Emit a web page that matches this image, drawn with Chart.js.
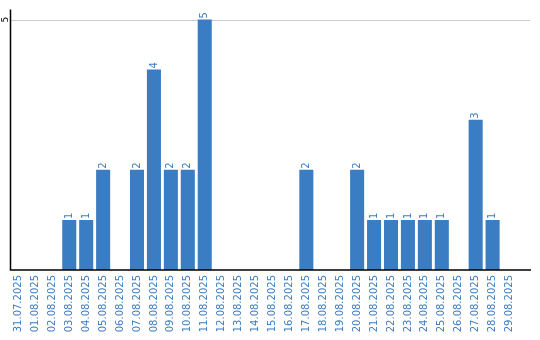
<!DOCTYPE html>
<html>
<head>
<meta charset="utf-8">
<script src="https://cdn.jsdelivr.net/npm/chart.js@4"></script>
<style>
  body { margin: 0; background: #fff; }
  canvas { display: block; }
</style>
</head>
<body>
<canvas id="chart" width="540" height="340"></canvas>
<script>
const dates = [
  '31.07.2025', '01.08.2025', '02.08.2025', '03.08.2025', '04.08.2025', '05.08.2025',
  '06.08.2025', '07.08.2025', '08.08.2025', '09.08.2025', '10.08.2025', '11.08.2025',
  '12.08.2025', '13.08.2025', '14.08.2025', '15.08.2025', '16.08.2025', '17.08.2025',
  '18.08.2025', '19.08.2025', '20.08.2025', '21.08.2025', '22.08.2025', '23.08.2025',
  '24.08.2025', '25.08.2025', '26.08.2025', '27.08.2025', '28.08.2025', '29.08.2025'
]
const counts = [0, 0, 0, 1, 1, 2, 0, 2, 4, 2, 2, 5, 0, 0, 0, 0, 0, 2, 0, 0, 2, 1, 1, 1, 1, 1, 0, 3, 1, 0]
const yTicks = [5]

const blue = '#3b7dc2'

// axis lines, gridline, y tick and value labels drawn by hand
const extras = {
  id: 'extras',
  beforeDatasetsDraw(chart) {
    const { ctx, chartArea, scales } = chart
    ctx.save()
    ctx.strokeStyle = '#cccccc'
    ctx.lineWidth = 1
    yTicks.forEach(t => {
      const y = Math.round(scales.y.getPixelForValue(t)) + 0.5
      ctx.beginPath()
      ctx.moveTo(chartArea.left, y)
      ctx.lineTo(530, y)
      ctx.stroke()
    })
    ctx.restore()
  },
  afterDatasetsDraw(chart) {
    const { ctx, chartArea, scales } = chart
    ctx.save()
    ctx.strokeStyle = '#000'
    ctx.lineWidth = 1.5
    ctx.beginPath()
    ctx.moveTo(chartArea.left + 0.5, chartArea.top)
    ctx.lineTo(chartArea.left + 0.5, chartArea.bottom)
    ctx.lineTo(531, chartArea.bottom)
    ctx.stroke()

    // y tick
    ctx.fillStyle = '#000'
    ctx.font = '9px "DejaVu Sans"'
    ctx.textAlign = 'center'
    ctx.textBaseline = 'alphabetic'
    yTicks.forEach(t => {
      ctx.save()
      ctx.translate(7.5, scales.y.getPixelForValue(t))
      ctx.rotate(-Math.PI / 2)
      ctx.fillText(String(t), 0, 0)
      ctx.restore()
    })

    // value labels
    ctx.fillStyle = blue
    ctx.font = '10px "DejaVu Sans"'
    ctx.textAlign = 'left'
    ctx.textBaseline = 'middle'
    const meta = chart.getDatasetMeta(0)
    meta.data.forEach((bar, i) => {
      if (!counts[i]) return
      ctx.save()
      ctx.translate(bar.x, bar.y - 1)
      ctx.rotate(-Math.PI / 2)
      ctx.fillText(String(counts[i]), 0, 0)
      ctx.restore()
    })
    ctx.restore()
  }
}

new Chart('chart', {
  type: 'bar',
  data: {
    labels: dates,
    datasets: [{
      data: counts,
      backgroundColor: blue,
      borderWidth: 0,
      barPercentage: 1,
      categoryPercentage: 0.83
    }]
  },
  options: {
    responsive: false,
    animation: false,
    layout: { padding: { left: 10, right: 22, top: 9.5, bottom: 0 } },
    plugins: { legend: { display: false }, tooltip: { enabled: false } },
    scales: {
      x: {
        grid: { display: false, drawTicks: false },
        border: { display: false },
        ticks: {
          autoSkip: false,
          minRotation: 90,
          maxRotation: 90,
          padding: 5,
          color: blue,
          font: { family: 'DejaVu Sans', size: 10 }
        },
        afterFit: s => { s.height = 70 }
      },
      y: {
        display: false,
        min: 0,
        max: 5.2
      }
    }
  },
  plugins: [extras]
})
</script>
</body>
</html>
